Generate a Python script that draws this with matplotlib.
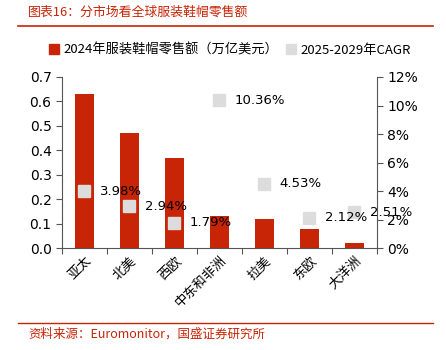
import matplotlib
matplotlib.use("Agg")
import matplotlib.pyplot as plt
from matplotlib.lines import Line2D
import numpy as np

plt.rcParams['font.family'] = ['DejaVu Sans', 'Noto Sans CJK SC']

regions = ["亚太", "北美", "西欧", "中东和非洲", "拉美", "东欧", "大洋洲"]
sales = [0.63, 0.47, 0.37, 0.13, 0.12, 0.08, 0.02]
cagr = [3.98, 2.94, 1.79, 10.36, 4.53, 2.12, 2.51]

red = "#C82406"
grey = "#DCDCDC"
cjk = ['Noto Sans CJK SC', 'DejaVu Sans']

fig = plt.figure(figsize=(4.46, 3.5), dpi=100)
ax = fig.add_axes([0.139, 0.291, 0.706, 0.489])
x = np.arange(len(regions))
ax.bar(x, sales, width=0.42, color=red)
ax.set_xlim(-0.5, len(regions) - 0.5)
ax.set_ylim(0, 0.7)
ax.set_yticks(np.arange(0, 0.71, 0.1))
ax.set_yticklabels([f"{v:.1f}" for v in np.arange(0, 0.71, 0.1)], fontsize=10)
ax.set_xticks(np.arange(-0.5, len(regions), 1))
ax.set_xticklabels([])
ax.set_xticks(x, minor=True)
ax.set_xticklabels(regions, minor=True, rotation=45, ha="right", va="top",
                   rotation_mode="anchor", family=cjk, fontsize=9.5)
ax.tick_params(axis="x", which="minor", length=0, pad=4)
ax.tick_params(axis="x", which="major", length=4, color="#555555")
ax.tick_params(axis="y", length=4, color="#555555")
for s in ["top", "right"]:
    ax.spines[s].set_visible(False)
for s in ["left", "bottom"]:
    ax.spines[s].set_color("#555555")

ax2 = ax.twinx()
ax2.set_ylim(0, 12)
ax2.set_yticks(range(0, 13, 2))
ax2.set_yticklabels([f"{v}%" for v in range(0, 13, 2)], fontsize=10)
ax2.tick_params(axis="y", length=4, color="#555555")
for s in ["top", "left", "bottom"]:
    ax2.spines[s].set_visible(False)
ax2.spines["right"].set_color("#555555")
ax2.plot(x, cagr, linestyle="none", marker="s", markersize=9, color=grey)
for xi, v in zip(x, cagr):
    ax2.annotate(f"{v:.2f}%", (xi, v), xytext=(11, 0), textcoords="offset points",
                 va="center", ha="left", fontsize=9.5)

# legend
handles = [Line2D([], [], linestyle="none", marker="s", markersize=7, color=red),
           Line2D([], [], linestyle="none", marker="s", markersize=7, color=grey)]
fig.legend(handles, ["2024年服装鞋帽零售额（万亿美元）", "2025-2029年CAGR"],
           loc="center", bbox_to_anchor=(0.515, 0.857), ncol=2, frameon=False,
           prop={"family": cjk, "size": 9.5}, handlelength=0.8, handletextpad=0.3,
           columnspacing=0.6)

# title and source
fig.text(0.063, 0.965, "图表16：分市场看全球服装鞋帽零售额", color=red, fontsize=9.3,
         family=cjk, style="italic", va="center")
fig.add_artist(Line2D([0.04, 0.97], [0.925, 0.925], color=red, lw=1.2))
fig.add_artist(Line2D([0.04, 0.97], [0.077, 0.077], color=red, lw=1.0))
fig.text(0.063, 0.045, "资料来源：Euromonitor，国盛证券研究所", color=red, fontsize=9,
         family=cjk, style="italic", va="center")

fig.savefig("out.png", dpi=100)
